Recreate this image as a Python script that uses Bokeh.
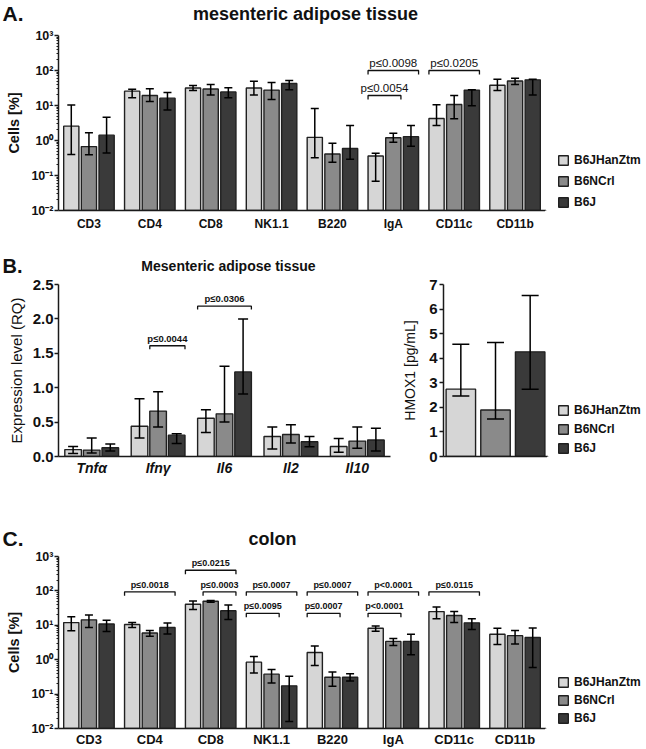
from bokeh.plotting import figure
from bokeh.models import (Range1d, FactorRange, FixedTicker, CustomJSTickFormatter, NumeralTickFormatter,
                          ColumnDataSource, Whisker, TeeHead, Legend, LegendItem)
from bokeh.layouts import column, row
from bokeh.core.properties import value
from bokeh.embed import file_html
from bokeh.resources import INLINE

FONT = "Liberation Sans"

# ---------------- data ----------------
strains = ["B6JHanZtm", "B6NCrl", "B6J"]
colors = ["#d6d6d6", "#8a8a8a", "#3a3a3a"]

log_ticks = [0.01, 0.1, 1, 10, 100, 1000]
log_tick_labels = ["10⁻²", "10⁻¹", "10⁰", "10¹", "10²", "10³"]

# Panel A: mesenteric adipose tissue (Cells %)
a_title = "mesenteric adipose tissue"
a_cats = ["CD3", "CD4", "CD8", "NK1.1", "B220", "IgA", "CD11c", "CD11b"]
a_mean_hanztm = [2.57, 25.7, 31.6, 31.6, 1.23, 0.36, 4.25, 38]
a_up_hanztm = [10.4, 29, 37, 49, 8.2, 0.43, 10.5, 56]
a_low_hanztm = [0.4, 16.6, 27, 20, 0.32, 0.069, 2.7, 27]
a_mean_ncrl = [0.67, 19.4, 29.5, 27.5, 0.41, 1.2, 10.7, 50]
a_up_ncrl = [1.66, 30, 40, 45.7, 0.83, 1.62, 19.4, 60]
a_low_ncrl = [0.39, 13, 20, 14.8, 0.24, 0.89, 4.2, 40]
a_mean_b6j = [1.42, 16.2, 24.5, 42.7, 0.59, 1.29, 27.5, 54]
a_up_b6j = [4.6, 23.6, 32, 52, 2.7, 2.7, 28, 56]
a_low_b6j = [0.44, 7.4, 16.6, 28, 0.29, 0.69, 9.8, 20]
# brackets: (category, from strain idx, to strain idx, level, text)
a_brackets = [("IgA", 0, 2, 100, "p≤0.0098"), ("IgA", 0, 1, 19.3, "p≤0.0054"),
              ("CD11c", 0, 2, 100, "p≤0.0205")]

# Panel B left: expression level (RQ)
b_title = "Mesenteric adipose tissue"
b_cats = ["Tnfα", "Ifnγ", "Il6", "Il2", "Il10"]
b_mean_hanztm = [0.10, 0.44, 0.556, 0.29, 0.146]
b_up_hanztm = [0.146, 0.84, 0.68, 0.43, 0.26]
b_low_hanztm = [0.044, 0.27, 0.35, 0.11, 0.06]
b_mean_ncrl = [0.093, 0.66, 0.62, 0.32, 0.224]
b_up_ncrl = [0.27, 0.94, 1.31, 0.46, 0.43]
b_low_ncrl = [0.05, 0.43, 0.50, 0.195, 0.12]
b_mean_b6j = [0.127, 0.31, 1.23, 0.215, 0.24]
b_up_b6j = [0.18, 0.33, 2.0, 0.29, 0.41]
b_low_b6j = [0.08, 0.19, 0.91, 0.14, 0.08]
b_brackets = [("Ifnγ", 1, 2, 1.61, "p≤0.0044"), ("Il6", 0, 2, 2.185, "p≤0.0306")]
b_ticks = [0.0, 0.5, 1.0, 1.5, 2.0, 2.5]

# Panel B right: HMOX1 [pg/mL]
h_mean = [2.74, 1.89, 4.26]
h_up = [4.57, 4.64, 6.55]
h_low = [2.46, 1.53, 2.74]
h_ticks = [0, 1, 2, 3, 4, 5, 6, 7]

# Panel C: colon (Cells %)
c_title = "colon"
c_cats = ["CD3", "CD4", "CD8", "NK1.1", "B220", "IgA", "CD11c", "CD11b"]
c_mean_hanztm = [12, 10.6, 41, 0.85, 1.62, 8.2, 25, 5.5]
c_up_hanztm = [17.6, 12, 51, 1.23, 2.5, 9.5, 34, 8.2]
c_low_hanztm = [7, 8.6, 29, 0.41, 0.68, 6.7, 15.5, 2.75]
c_mean_ncrl = [14.4, 6.0, 50, 0.38, 0.31, 3.4, 19.2, 5.0]
c_up_ncrl = [20, 7.1, 53, 0.52, 0.44, 4.15, 25, 7.1]
c_low_ncrl = [8.7, 4.8, 47, 0.21, 0.17, 2.6, 12, 2.87]
c_mean_b6j = [10.9, 8.6, 26.6, 0.174, 0.31, 3.4, 11.8, 4.4]
c_up_b6j = [14, 11.6, 38.6, 0.33, 0.39, 5.5, 15.5, 8.4]
c_low_b6j = [6.6, 5.6, 14.7, 0.016, 0.24, 1.4, 7.5, 0.59]
c_brackets = [("CD4", 0, 2, 94, "p≤0.0018"),
              ("CD8", 0, 2, 398, "p≤0.0215"), ("CD8", 1, 2, 94, "p≤0.0003"),
              ("NK1.1", 0, 2, 94, "p≤0.0007"), ("NK1.1", 0, 1, 22.3, "p≤0.0095"),
              ("B220", 0, 2, 94, "p≤0.0007"), ("B220", 0, 1, 22.3, "p≤0.0007"),
              ("IgA", 0, 2, 94, "p<0.0001"), ("IgA", 0, 1, 22.3, "p<0.0001"),
              ("CD11c", 0, 2, 94, "p≤0.0115")]

# ---------------- helpers ----------------
AX = "#1a1a1a"
W = 646


def bare(p):
    p.axis.visible = False
    p.grid.visible = False
    p.outline_line_color = None
    p.background_fill_color = "white"
    p.border_fill_color = "white"


def style_common(p):
    p.outline_line_color = None
    p.xgrid.visible = False
    p.ygrid.visible = False
    p.background_fill_color = "white"
    p.border_fill_color = "white"
    for ax in p.axis:
        ax.axis_line_color = AX
        ax.axis_line_width = 1.5
        ax.major_tick_line_color = AX
        ax.major_tick_line_width = 1.5
        ax.minor_tick_line_color = AX
        ax.major_label_text_font = FONT
        ax.axis_label_text_font = FONT
        ax.major_label_text_color = "#111111"
        ax.axis_label_text_color = "#111111"
        ax.major_tick_in = 0
        ax.minor_tick_in = 0
    p.xaxis.major_tick_line_color = None
    p.xaxis.minor_tick_line_color = None


def header(height, texts):
    """texts: list of (x_px, baseline_px_from_bottom, text, size, align)"""
    h = figure(width=W, height=height, output_backend="svg", toolbar_location=None,
               x_range=Range1d(0, W), y_range=Range1d(0, height),
               min_border_left=0, min_border_right=0, min_border_top=0, min_border_bottom=0)
    bare(h)
    for x, y, t, s, al in texts:
        h.text(x=[x], y=[y], text=[t], text_font=value(FONT), text_font_size=s,
               text_font_style="bold", text_align=al, text_baseline="alphabetic",
               text_color="#111111")
    return h


def legend_fig(width, height, top, bottom, loc, lh, sp):
    f = figure(width=width, height=height, output_backend="svg", toolbar_location=None,
               x_range=Range1d(0, 1), y_range=Range1d(0, 1),
               min_border_left=0, min_border_right=0, min_border_top=top, min_border_bottom=bottom)
    bare(f)
    items = []
    for s, c in zip(strains, colors):
        # swatch renderer only (its single bar lies outside the visible range)
        r = f.vbar(x=[-5], top=[-5], bottom=-6, width=0.1, fill_color=c, line_color="#202020",
                   line_width=1.4)
        items.append(LegendItem(label=s, renderers=[r]))
    leg = Legend(items=items, location=loc, orientation="vertical",
                 label_text_font=FONT, label_text_font_size="12px", label_text_font_style="bold",
                 label_text_color="#111111",
                 glyph_width=12, glyph_height=12, label_height=lh, label_standoff=5,
                 spacing=sp, padding=0, margin=0, border_line_color=None,
                 background_fill_alpha=0)
    f.add_layout(leg)
    return f


def add_bars(p, cats, means, ups, lows, offsets, bw, bottom, cap):
    for k in range(3):
        xs = [i + 0.5 + offsets[k] for i in range(len(cats))]
        src = ColumnDataSource(dict(x=xs, top=means[k], up=ups[k], low=lows[k]))
        p.vbar(x="x", top="top", bottom=bottom, width=bw, source=src,
               fill_color=colors[k], line_color="#202020", line_width=1.4)
        w = Whisker(base="x", upper="up", lower="low", source=src, dimension="height",
                    line_color="black", line_width=1.5, level="overlay",
                    upper_head=TeeHead(size=cap, line_color="black", line_width=1.5),
                    lower_head=TeeHead(size=cap, line_color="black", line_width=1.5))
        p.add_layout(w)


def add_brackets(p, cats, brackets, offsets, bw, tick_fn, text_fn, fsize, fstyle):
    xs, ys, tx, ty, tt = [], [], [], [], []
    for cat, i, j, lev, txt in brackets:
        c = cats.index(cat) + 0.5
        x0 = c + offsets[i] - bw / 2
        x1 = c + offsets[j] + bw / 2
        yb = tick_fn(lev)
        xs.append([x0, x0, x1, x1])
        ys.append([yb, lev, lev, yb])
        tx.append((x0 + x1) / 2)
        ty.append(text_fn(lev))
        tt.append(txt)
    p.multi_line(xs=xs, ys=ys, line_color="#111111", line_width=1.3)
    p.text(x=tx, y=ty, text=tt, text_font=value(FONT), text_font_size=fsize,
           text_font_style=fstyle, text_align="center", text_baseline="bottom", text_color="#111111")


def log_panel(cats, means, ups, lows, brackets, height, top, bottom, ptext_size, ptext_style,
              cat_size, cat_standoff):
    p = figure(width=545, height=height, output_backend="svg", toolbar_location=None,
               x_range=FactorRange(*cats), y_range=Range1d(0.01, 1000), y_axis_type="log",
               min_border_left=58, min_border_right=0, min_border_top=top, min_border_bottom=bottom)
    style_common(p)
    offs = [-0.29, 0.0, 0.29]
    add_bars(p, cats, means, ups, lows, offs, 0.25, 0.01, 8)
    f = 10 ** (-4 / 35)
    g = 10 ** (2 / 35)
    add_brackets(p, cats, brackets, offs, 0.25, lambda v: v * f, lambda v: v * g,
                 ptext_size, ptext_style)
    ya = p.yaxis[0]
    ya.ticker = FixedTicker(ticks=log_ticks,
                            minor_ticks=[m * 10.0 ** e for e in range(-2, 3) for m in range(2, 10)])
    ya.formatter = CustomJSTickFormatter(args=dict(tvals=log_ticks, tlabs=log_tick_labels), code="""
        const i = tvals.findIndex(t => Math.abs(Math.log10(t) - Math.log10(tick)) < 1e-6);
        return i < 0 ? '' : tlabs[i];
    """)
    ya.major_label_text_font_size = "12.5px"
    ya.major_label_text_font_style = "bold"
    ya.major_tick_out = 4
    ya.minor_tick_out = 2
    ya.major_label_standoff = 1
    ya.axis_label = "Cells [%]"
    ya.axis_label_text_font_size = "14.5px"
    ya.axis_label_text_font_style = "bold"
    ya.axis_label_standoff = 6
    xa = p.xaxis[0]
    xa.major_label_text_font_size = cat_size
    xa.major_label_text_font_style = "bold"
    xa.major_tick_out = 0
    xa.major_label_standoff = cat_standoff
    return p


# ---------------- Panel A ----------------
hdrA = header(28, [(2, 15, "A.", "21px", "left"), (305, 15, a_title, "18px", "center")])
pA = log_panel(a_cats, [a_mean_hanztm, a_mean_ncrl, a_mean_b6j],
               [a_up_hanztm, a_up_ncrl, a_up_b6j], [a_low_hanztm, a_low_ncrl, a_low_b6j],
               a_brackets, 222, 7, 40, "11.5px", "normal", "12px", 6)
legA = legend_fig(W - 545, 222, 7, 40, (12, 0), 16, 5)

# ---------------- Panel B header ----------------
hdrB = header(26, [(2, 11, "B.", "20px", "left"), (228, 11, b_title, "14px", "center")])

# ---------------- Panel B left ----------------
hB = 202
pB = figure(width=395, height=hB, output_backend="svg", toolbar_location=None,
            x_range=FactorRange(*b_cats), y_range=Range1d(0, 2.5),
            min_border_left=58, min_border_right=5, min_border_top=8, min_border_bottom=22)
style_common(pB)
offsB = [-0.28, 0.0, 0.28]
add_bars(pB, b_cats, [b_mean_hanztm, b_mean_ncrl, b_mean_b6j], [b_up_hanztm, b_up_ncrl, b_up_b6j],
         [b_low_hanztm, b_low_ncrl, b_low_b6j], offsB, 0.25, 0, 10)
add_brackets(pB, b_cats, b_brackets, offsB, 0.25, lambda v: v - 0.05, lambda v: v + 0.03,
             "9.5px", "bold")
ya = pB.yaxis[0]
ya.ticker = FixedTicker(ticks=b_ticks)
ya.formatter = NumeralTickFormatter(format="0.0")
ya.major_label_text_font_size = "15px"
ya.major_label_text_font_style = "bold"
ya.major_tick_out = 4
ya.major_label_standoff = 1
ya.axis_label = "Expression level (RQ)"
ya.axis_label_text_font_size = "15px"
ya.axis_label_text_font_style = "normal"
ya.axis_label_standoff = 5
xa = pB.xaxis[0]
xa.major_label_text_font_size = "14px"
xa.major_label_text_font_style = "bold italic"
xa.major_tick_out = 0
xa.major_label_standoff = 3

# ---------------- Panel B right ----------------
pH = figure(width=152, height=hB, output_backend="svg", toolbar_location=None,
            x_range=Range1d(0, 3), y_range=Range1d(0, 7),
            min_border_left=48, min_border_right=0, min_border_top=8, min_border_bottom=22)
style_common(pH)
h_x = [0.5, 1.5, 2.5]
srcH = ColumnDataSource(dict(x=h_x, top=h_mean, up=h_up, low=h_low, color=colors))
pH.vbar(x="x", top="top", bottom=0, width=0.85, source=srcH,
        fill_color="color", line_color="#202020", line_width=1.4)
pH.add_layout(Whisker(base="x", upper="up", lower="low", source=srcH, line_color="black", line_width=1.5,
                      level="overlay",
                      upper_head=TeeHead(size=17, line_color="black", line_width=1.5),
                      lower_head=TeeHead(size=17, line_color="black", line_width=1.5)))
ya = pH.yaxis[0]
ya.ticker = FixedTicker(ticks=h_ticks)
ya.major_label_text_font_size = "15px"
ya.major_label_text_font_style = "bold"
ya.major_tick_out = 4
ya.major_label_standoff = 2
ya.axis_label = "HMOX1 [pg/mL]"
ya.axis_label_text_font_size = "14px"
ya.axis_label_text_font_style = "normal"
ya.axis_label_standoff = 8
xa = pH.xaxis[0]
xa.ticker = FixedTicker(ticks=[])
xa.major_tick_out = 0
legB = legend_fig(W - 395 - 152, hB, 8, 22, (10, 0), 16, 3)

# ---------------- Panel C ----------------
hdrC = header(71, [(2, 11, "C.", "21px", "left"), (272, 11, c_title, "18px", "center")])
pC = log_panel(c_cats, [c_mean_hanztm, c_mean_ncrl, c_mean_b6j],
               [c_up_hanztm, c_up_ncrl, c_up_b6j], [c_low_hanztm, c_low_ncrl, c_low_b6j],
               c_brackets, 200, 7, 17, "9px", "bold", "13px", 3)
legC = legend_fig(W - 545, 200, 7, 17, (12, 2), 16, 2)

layout = column(row(hdrA), row(pA, legA), row(hdrB), row(pB, pH, legB), row(hdrC), row(pC, legC))
open("out.html", "w").write(file_html(layout, INLINE))
